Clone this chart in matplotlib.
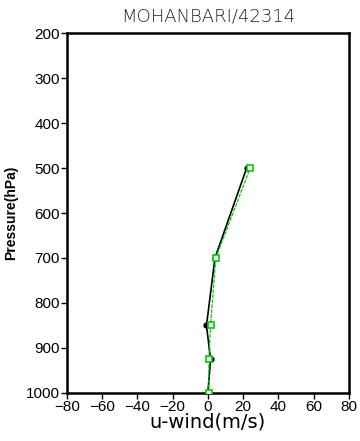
import matplotlib
matplotlib.use("Agg")
import matplotlib.pyplot as plt

# ============================================
# DATA
# ============================================
pressure = [1000, 925, 850, 700, 500]
u_black = [0.0, 1.5, -0.8, 4.0, 22.0]
u_green = [0.5, 0.6, 1.5, 4.5, 24.0]

x_ticks = [-80, -60, -40, -20, 0, 20, 40, 60, 80]
y_ticks = [200, 300, 400, 500, 600, 700, 800, 900, 1000]

# ============================================
# PLOT
# ============================================
plt.rcParams["font.family"] = ["Liberation Sans", "DejaVu Sans"]

fig = plt.figure(figsize=(3.6, 4.41), dpi=100)
ax = fig.add_axes([0.186, 0.109, 0.783, 0.816])

ax.plot(u_black, pressure, color="black", lw=1.2, marker="o",
        markersize=3.5, markerfacecolor="black", zorder=2)
ax.plot(u_green, pressure, color="#00cc00", lw=0.9, ls=(0, (3, 1)),
        marker="s", markersize=4.5, markerfacecolor="white",
        markeredgecolor="#00cc00", markeredgewidth=1.2, zorder=3)

ax.set_xlim(-80, 80)
ax.set_ylim(1000, 200)
ax.set_xticks(x_ticks)
ax.set_yticks(y_ticks)
ax.tick_params(direction="out", length=4, width=1, labelsize=11, pad=1)
for side in ["top", "right", "bottom", "left"]:
    ax.spines[side].set_linewidth(1.8)

ax.set_title("MOHANBARI/42314", fontsize=13, family="DejaVu Sans",
             color="#222222", fontweight="light", pad=8)
ax.set_xlabel("u-wind(m/s)", fontsize=14, family="DejaVu Sans", labelpad=-1)
ax.set_ylabel("Pressure(hPa)", fontsize=10, fontweight="bold", labelpad=6)

fig.savefig("out.png", dpi=100)
